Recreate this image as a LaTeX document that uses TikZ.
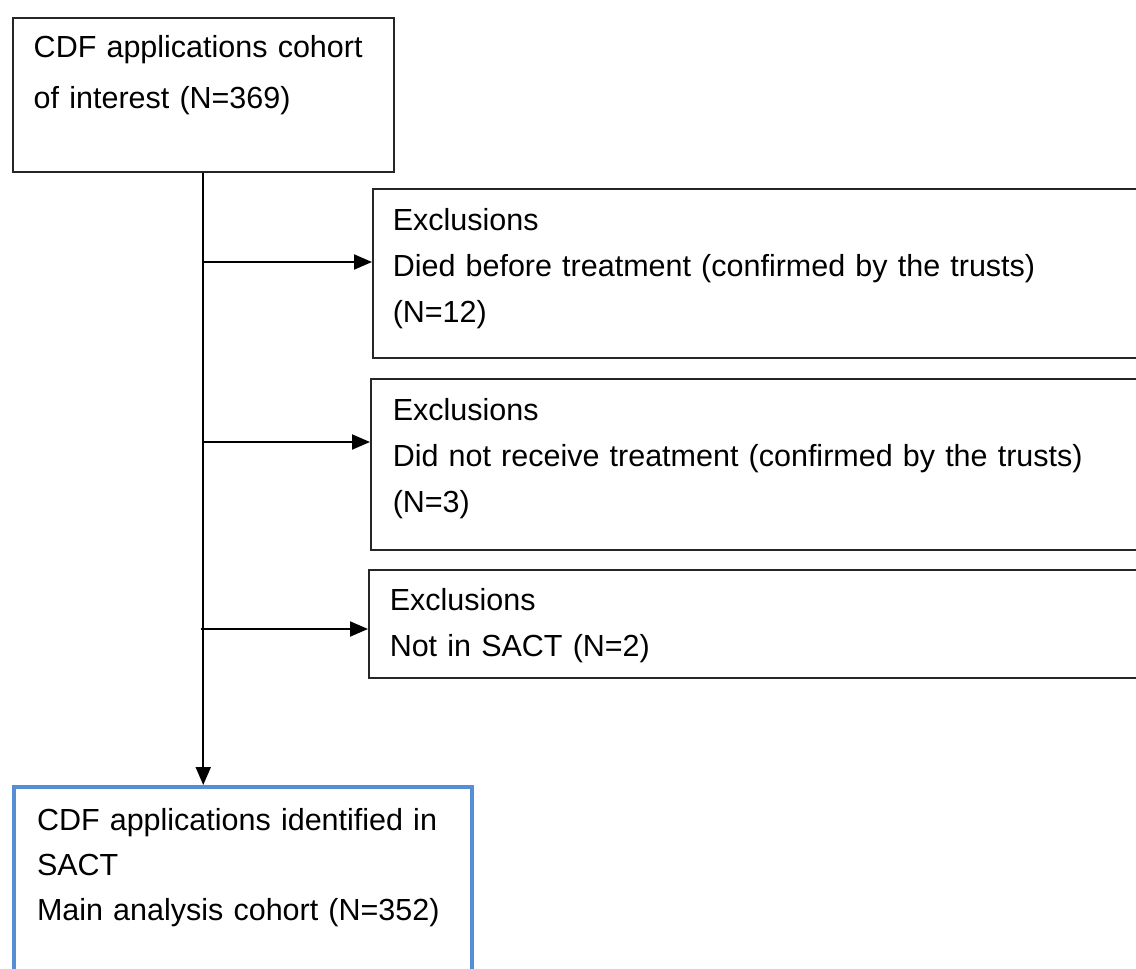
\documentclass[tikz,border=0pt]{standalone}
\usepackage{fontspec}
\setmainfont{Liberation Sans}
\usetikzlibrary{arrows.meta}

\definecolor{mainblue}{RGB}{85,142,213}

\tikzset{
  flowbox/.style={draw=black!85, line width=1.5pt, anchor=north west, align=left,
    inner ysep=0pt, font=\fontsize{30.5}{46}\selectfont},
  mainbox/.style={flowbox, draw=mainblue, line width=4pt},
  link/.style={line width=2pt}
}

\begin{document}
\begin{tikzpicture}[x=1pt, y=-1pt, >={Triangle[length=18pt,width=15pt]}]
        \useasboundingbox (0,0) rectangle (1136,969);
        \fill[white] (0,0) rectangle (1136,969);
        \clip (0,0) rectangle (1136,969);

        % cohort boxes
        \node[flowbox, inner xsep=21pt, text width=339pt, text height=40pt, text depth=114pt,
            font=\fontsize{30.5}{51}\selectfont] (cohort) at (12,17)
            {CDF applications cohort\\of interest (N=369)};
        \node[mainbox, inner xsep=23pt, text width=412pt, text height=43pt, text depth=172pt,
            font=\fontsize{30.5}{45}\selectfont] (sact) at (12,785)
            {CDF applications identified in\\SACT\\Main analysis cohort (N=352)};

        % exclusion boxes
        \node[flowbox, inner xsep=20pt, text width=800pt, text height=42pt, text depth=127pt] (died) at (372,188)
            {Exclusions\\Died before treatment (confirmed by the trusts)\\(N=12)};
        \node[flowbox, inner xsep=22pt, text width=800pt, text height=42pt, text depth=129pt] (notreat) at (370,378)
            {Exclusions\\Did not receive treatment (confirmed by the trusts)\\(N=3)};
        \node[flowbox, inner xsep=21pt, text width=800pt, text height=41pt, text depth=67pt] (nosact) at (368,569)
            {Exclusions\\Not in SACT (N=2)};

        % trunk and branches
        \draw[link,->] (cohort.south) -- (cohort.south |- sact.north);
        \coordinate (b1) at (203,262);
        \coordinate (b2) at (203,442);
        \coordinate (b3) at (201,629);
        \draw[link,->] (b1) -- (b1 -| died.west);
        \draw[link,->] (b2) -- (b2 -| notreat.west);
        \draw[link,->] (b3) -- (b3 -| nosact.west);

    \end{tikzpicture}
\end{document}
